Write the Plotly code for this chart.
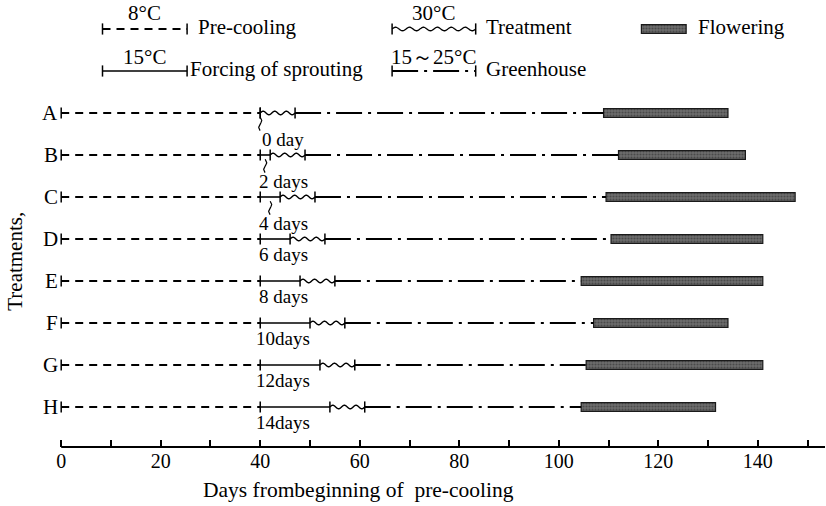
import numpy as np
import plotly.graph_objects as go

# ---------------- data ----------------
rows = ["A", "B", "C", "D", "E", "F", "G", "H"]
precool_start = [0, 0, 0, 0, 0, 0, 0, 0]
precool_end = [40, 40, 40, 40, 40, 40, 40, 40]
forcing_days = [0, 2, 4, 6, 8, 10, 12, 14]
treatment_days = [7, 7, 7, 7, 7, 7, 7, 7]
flower_start = [109, 112, 109.5, 110.5, 104.5, 107, 105.5, 104.5]
flower_end = [134, 137.5, 147.5, 141, 141, 134, 141, 131.5]
day_labels = ["0 day", "2 days", "4 days", "6 days", "8 days", "10days", "12days", "14days"]
connector_rows = ["A", "B", "C"]
x_ticks = list(range(0, 151, 10))
x_tick_labels = [str(v) if (v % 20 == 0 and v <= 140) else "" for v in x_ticks]

# ---------------- style ----------------
FONT = "Liberation Serif"
INK = "black"
DASH_PRE = "8px,6px"
DASH_GH = "26px,6px,3px,6px"
BAR_W = 0.21
WAVE_AMP = 0.042

fig = go.Figure()


def seg(x0, x1, y, dash="solid", width=1.8):
    fig.add_trace(go.Scatter(x=[x0, x1], y=[y, y], mode="lines",
                             line=dict(color=INK, width=width, dash=dash),
                             hoverinfo="skip", showlegend=False))


def wave(x0, x1, y, n_waves=3, width=1.4):
    t = np.linspace(0, 1, 160)
    xs = x0 + (x1 - x0) * t
    ys = y - WAVE_AMP * np.sin(2 * np.pi * n_waves * t)
    fig.add_trace(go.Scatter(x=xs, y=ys, mode="lines",
                             line=dict(color=INK, width=width, shape="spline"),
                             hoverinfo="skip", showlegend=False))


def ticks(xs, y):
    fig.add_trace(go.Scatter(x=xs, y=[y] * len(xs), mode="markers",
                             marker=dict(symbol="line-ns", size=8,
                                         line=dict(color=INK, width=1.5)),
                             hoverinfo="skip", showlegend=False))


def flower_bar(x0, x1, y):
    fig.add_trace(go.Bar(x=[x1 - x0], y=[y], base=[x0], orientation="h",
                         width=BAR_W,
                         marker=dict(color="#6e6e6e",
                                     line=dict(color="#1a1a1a", width=1.2),
                                     pattern=dict(shape=".", fgcolor="#262626",
                                                  size=3, solidity=0.4)),
                         hoverinfo="skip", showlegend=False))


annotations = []

for i, r in enumerate(rows):
    f_end = precool_end[i] + forcing_days[i]
    t_end = f_end + treatment_days[i]
    seg(precool_start[i], precool_end[i], i, dash=DASH_PRE, width=2)
    if forcing_days[i] > 0:
        seg(precool_end[i], f_end, i, width=1.6)
    wave(f_end, t_end, i)
    seg(t_end, flower_start[i], i, dash=DASH_GH, width=2)
    flower_bar(flower_start[i], flower_end[i], i)
    ticks([precool_start[i], precool_end[i], f_end, t_end], i)

    annotations.append(dict(x=precool_start[i], y=i, xref="x", yref="y", text=r,
                            showarrow=False, xanchor="right", yanchor="middle",
                            xshift=-1, font=dict(family=FONT, size=21, color=INK)))
    if r in connector_rows:
        xc = precool_end[i] + forcing_days[i] / 2
        tt = np.linspace(0, 1, 40)
        fig.add_trace(go.Scatter(x=xc + 0.3 * np.sin(2 * np.pi * 1.0 * tt),
                                 y=i + 0.1 + 0.32 * tt, mode="lines",
                                 line=dict(color=INK, width=1.2),
                                 hoverinfo="skip", showlegend=False))
        ly = i + 0.62
    else:
        ly = i + 0.37
    annotations.append(dict(x=44.6, y=ly, xref="x", yref="y", text=day_labels[i],
                            showarrow=False, xanchor="center", yanchor="middle",
                            font=dict(family=FONT, size=19, color=INK)))

# ---------------- key (top) ----------------
LY1, LY2 = -2, -1
k_x0, k_x1 = 8.3, 25.3
k_x2, k_x3 = 66.5, 83.3
seg(k_x0, k_x1, LY1, dash=DASH_PRE, width=2)
ticks([k_x0, k_x1], LY1)
wave(k_x2, k_x3, LY1, n_waves=6, width=1.3)
ticks([k_x2, k_x3], LY1)
flower_bar(116.6, 125.6, LY1)
seg(k_x0, k_x1, LY2, width=1.6)
ticks([k_x0, k_x1], LY2)
seg(k_x2, k_x3, LY2, dash=DASH_GH, width=2)
ticks([k_x2, k_x3], LY2)

key_text = [
    ("8°C", (k_x0 + k_x1) / 2, LY1 - 0.37, "center"),
    ("Pre-cooling", 27.0, LY1 - 0.05, "left"),
    ("30°C", (k_x2 + k_x3) / 2, LY1 - 0.37, "center"),
    ("Treatment", 85.0, LY1 - 0.05, "left"),
    ("Flowering", 127.6, LY1 - 0.05, "left"),
    ("15°C", (k_x0 + k_x1) / 2, LY2 - 0.33, "center"),
    ("Forcing of sprouting", 25.4, LY2 - 0.05, "left"),
    ("15～25°C", (k_x2 + k_x3) / 2, LY2 - 0.33, "center"),
    ("Greenhouse", 85.0, LY2 - 0.05, "left"),
]
for txt, x, y, anc in key_text:
    annotations.append(dict(x=x, y=y, xref="x", yref="y", text=txt, showarrow=False,
                            xanchor=anc, yanchor="middle",
                            font=dict(family=FONT, size=21, color=INK)))

# axis titles
annotations.append(dict(x=59.7, y=-0.096, xref="x", yref="paper",
                        text="Days frombeginning of  pre-cooling", showarrow=False,
                        xanchor="center", yanchor="middle",
                        font=dict(family=FONT, size=21.5, color=INK)))
annotations.append(dict(x=-9.3, y=3.52, xref="x", yref="y", text="Treatments,",
                        textangle=-90, showarrow=False, xanchor="center",
                        yanchor="middle", font=dict(family=FONT, size=21, color=INK)))

fig.update_layout(
    width=826, height=506,
    margin=dict(l=0, r=1, t=0, b=59),
    paper_bgcolor="white", plot_bgcolor="white",
    showlegend=False, barmode="overlay",
    annotations=annotations,
    shapes=[dict(type="line", xref="x", yref="paper", x0=0, x1=153.5, y0=0, y1=0,
                 line=dict(color=INK, width=2))],
    xaxis=dict(range=[-12.3, 153.5], showgrid=False, zeroline=False, showline=False,
               tickmode="array", tickvals=x_ticks, ticktext=x_tick_labels,
               ticks="inside", ticklen=7, tickwidth=1.5, tickcolor=INK,
               tickfont=dict(family=FONT, size=20, color=INK), fixedrange=True),
    yaxis=dict(range=[7.952, -2.69], visible=False, fixedrange=True),
)

fig.write_html(
    "out.html",
    config={"displayModeBar": False},
    post_script="document.body.style.margin='0';document.body.style.overflow='hidden';",
)
